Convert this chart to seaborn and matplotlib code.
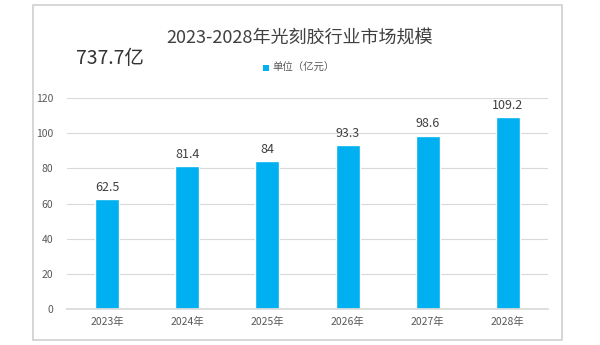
import matplotlib
matplotlib.use("Agg")
import matplotlib.pyplot as plt
import seaborn as sns
import pandas as pd
from matplotlib.patches import Rectangle

years = ["2023年", "2024年", "2025年", "2026年", "2027年", "2028年"]
values = [62.5, 81.4, 84, 93.3, 98.6, 109.2]
labels = ["62.5", "81.4", "84", "93.3", "98.6", "109.2"]
yticks = [0, 20, 40, 60, 80, 100, 120]

sns.set_theme(style="white")
plt.rcParams['font.family'] = ['Noto Sans CJK SC', 'DejaVu Sans']

fig = plt.figure(figsize=(6, 3.45), dpi=100)
fig.patch.set_facecolor("white")
# card frame
card = Rectangle((33/600, 1-340/345), (562-33)/600, (340-5)/345, transform=fig.transFigure,
                 facecolor="white", edgecolor="#d0d0d0", lw=1.2, zorder=-10)
fig.patches.append(card)

ax = fig.add_axes([67/600, 1-309/345, 481/600, (309-98)/345])
ax.set_zorder(5)
ax.set_facecolor("none")
df = pd.DataFrame({"year": years, "value": values})
sns.barplot(data=df, x="year", y="value", color="#00b0f0", width=0.3, saturation=1, ax=ax)
ax.set_ylim(0, 120)
ax.set_yticks(yticks)
ax.yaxis.grid(True, color="#d9d9d9", lw=0.8)
ax.set_axisbelow(True)
for s in ["top", "right", "left"]:
    ax.spines[s].set_visible(False)
ax.spines["bottom"].set_color("#d9d9d9")
ax.set_xlabel("")
ax.set_ylabel("")
ax.tick_params(axis="both", length=0, labelsize=7.5, colors="#595959", pad=6)
ax.tick_params(axis="y", pad=10)
for i, (v, t) in enumerate(zip(values, labels)):
    ax.text(i, v + 3, t, ha="center", va="bottom", fontsize=9, color="#404040")

fig.text(300/600, 1-38/345, "2023-2028年光刻胶行业市场规模", ha="center", va="center",
         fontsize=13, color="#404040", fontweight="medium")
fig.text(110/600, 1-59/345, "737.7亿", ha="center", va="center", fontsize=14, color="#333333")
fig.patches.append(Rectangle((263/600, 1-71/345), 6/600, 6/345, transform=fig.transFigure,
                             facecolor="#00b0f0", edgecolor="none"))
fig.text(272/600, 1-68/345, "单位（亿元）", ha="left", va="center", fontsize=7.5, color="#595959")

fig.savefig("out.png", dpi=100)
